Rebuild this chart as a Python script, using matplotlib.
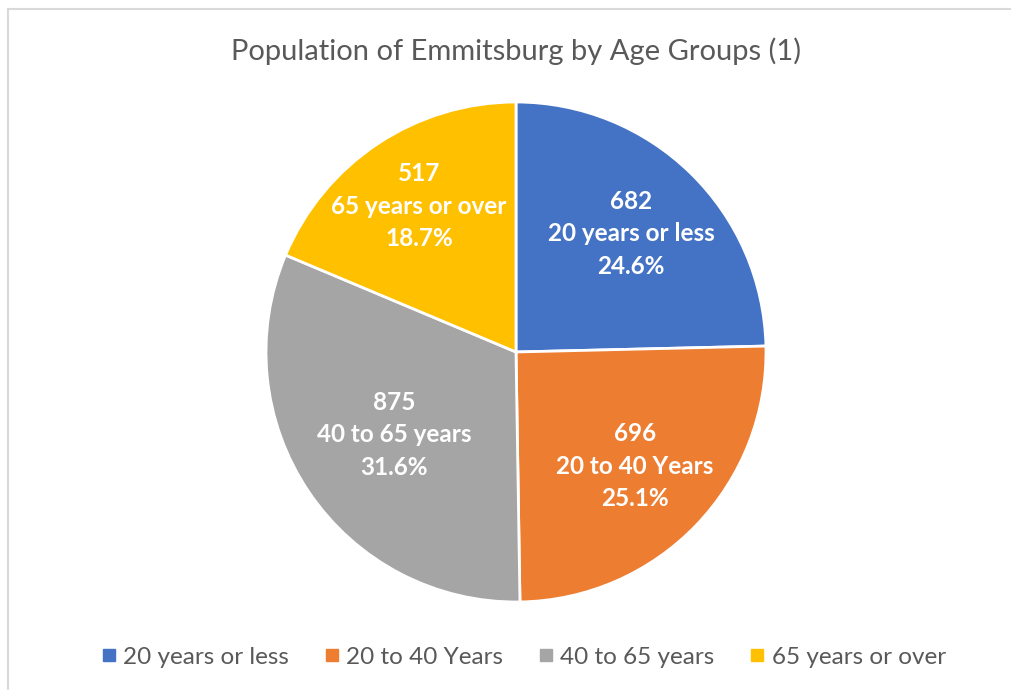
import matplotlib.pyplot as plt
from matplotlib.patches import Rectangle
import numpy as np

plt.rcParams['font.family'] = ['Lato', 'DejaVu Sans']

groups = ['20 years or less', '20 to 40 Years', '40 to 65 years', '65 years or over']
counts = [682, 696, 875, 517]
colors = ['#4472C4', '#ED7D31', '#A5A5A5', '#FFC000']

# how far out each data label sits (fraction of radius), like Excel's best fit
label_r = [0.66, 0.66, 0.59, 0.70]

fig = plt.figure(figsize=(10.12, 6.9), dpi=100)

# light frame like the Excel chart area
fig.patches.append(Rectangle((8 / 1012, -0.1), 1.2, (690 - 9) / 690 + 0.1,
                             transform=fig.transFigure, fill=False,
                             edgecolor='#D9D9D9', linewidth=1.5))

ax = fig.add_axes([266 / 1012, 88 / 690, 500 / 1012, 500 / 690])
wedges, _ = ax.pie(counts, colors=colors, startangle=90, counterclock=False,
                   radius=1, wedgeprops=dict(edgecolor='white', linewidth=2))
ax.set_xlim(-1, 1)
ax.set_ylim(-1, 1)
ax.set_aspect('equal')

total = sum(counts)
for w, n, g, r in zip(wedges, counts, groups, label_r):
    ang = np.deg2rad((w.theta1 + w.theta2) / 2)
    ax.text(r * np.cos(ang), r * np.sin(ang),
            f"{n}\n{g}\n{n / total * 100:.1f}%",
            ha='center', va='center', color='white', fontsize=17.5,
            fontweight='bold', linespacing=1.5)

fig.text(0.51, 1 - 51 / 690, 'Population of Emmitsburg by Age Groups (1)',
         ha='center', va='center', fontsize=21, color='#595959')

handles = [plt.Line2D([], [], marker='s', linestyle='', markersize=9,
                      color=c) for c in colors]
fig.legend(handles, groups, loc='center', bbox_to_anchor=(0.515, 1 - 657 / 690),
           ncol=4, frameon=False, fontsize=17.5, handletextpad=0.1,
           columnspacing=1.25, labelcolor='#595959', handlelength=1)

fig.savefig('out.png', dpi=100)
